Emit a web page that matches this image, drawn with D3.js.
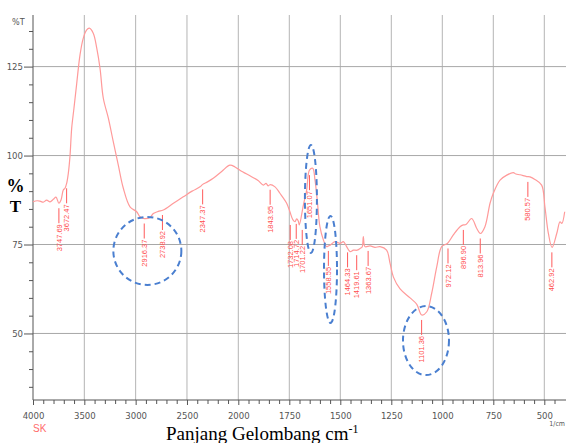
<!DOCTYPE html>
<html><head><meta charset="utf-8">
<script src="https://cdn.jsdelivr.net/npm/d3@7"></script>
<style>html,body{margin:0;padding:0;background:#fff;}svg{display:block;}</style>
</head><body>
<svg id="c" width="566" height="443"></svg>
<script>
// ---- data ----
const waveNumbers = [4000,3960,3932,3900,3867,3834,3802,3776,3748,3727,3705,3688,3672,3656,3640,3623,3601,3574,3542,3510,3477,3452,3413,3379,3347,3315,3266,3218,3169,3120,3055,2990,2958,2916,2860,2828,2780,2731,2636,2536,2450,2373,2347,2300,2244,2159,2081,2032,1992,1943,1903,1877,1864,1854,1845,1820,1796,1763,1747,1732,1722,1714,1706,1701,1681,1665,1651,1635,1624,1613,1600,1583,1567,1558,1550,1526,1501,1485,1469,1452,1436,1418,1403,1393,1387,1379,1354,1330,1305,1273,1256,1240,1207,1158,1125,1101,1076,1052,1027,1003,975,946,913,897,884,856,831,813,791,766,750,717,684,652,639,619,586,570,546,513,497,480,462,439,423,414,400];
const transmittance = [87.0,87.3,87.2,86.9,87.5,87.0,87.7,88.3,86.6,87.5,90.3,90.8,92.2,95.0,99.7,107.7,113.3,120.3,128.3,133.0,135.3,135.8,134.4,130.2,124.5,116.1,110.5,103.9,97.3,90.8,85.6,84.2,82.8,82.3,82.6,83.7,84.3,84.7,86.5,88.4,90.0,91.2,91.9,92.6,93.6,95.6,97.3,96.8,95.9,94.3,93.0,91.7,92.2,91.5,91.8,91.2,89.4,86.6,84.2,81.9,81.4,82.2,81.6,80.5,86.1,90.3,95.9,96.4,93.1,87.5,80.0,76.3,74.4,74.6,74.8,75.8,75.3,75.8,74.4,73.0,73.4,73.4,73.9,74.3,77.2,74.4,74.6,74.2,74.4,73.4,69.7,65.9,62.5,60.0,58.2,55.2,56.1,61.3,68.8,74.4,75.3,77.7,80.0,80.5,80.6,82.3,79.5,78.1,80.0,86.6,89.4,93.1,94.5,95.2,94.8,94.6,94.1,94.0,93.3,91.7,85.6,78.1,74.2,78.1,81.4,80.9,84.2];

const peakLabels = ["3747.69","3672.47","2916.37","2738.92","2347.37","1843.95","1732.08","1714.72","1701.22","1651.07","1558.55","1464.33","1419.61","1363.67","1101.36","972.12","896.90","813.96","580.57","462.92"];
const peakT = [86.6,92.2,82.3,84.7,91.9,91.8,81.9,82.2,80.5,95.9,74.6,74.2,73.4,74.6,55.2,75.3,80.5,78.1,94.0,74.2];

const xMajorTicks = [4000,3500,3000,2500,2000,1750,1500,1250,1000,750,500];
const yMajorTicks = [50,75,100,125];

// highlighted regions (centre wavenumber, centre %T)
const markWave = [2886,1644,1548,1080];
const markT = [73.2,87.8,68.0,48.0];

// ---- layout ----
const svg = d3.select("#c");
const x = d3.scaleLinear().domain([4000,2000,400]).range([33,238.3,564.7]);
const y = d3.scaleLinear().domain([31.3,139.5]).range([400,15]);
const narrow = "'Liberation Sans Narrow','Arial Narrow','DejaVu Sans Condensed','Liberation Sans',sans-serif";

// grid
const g = svg.append("g");
g.selectAll("line.vg").data(xMajorTicks.filter(d=>d!==4000)).enter().append("line")
  .attr("x1",d=>x(d)).attr("x2",d=>x(d)).attr("y1",15).attr("y2",400)
  .attr("stroke","#b4b4b4").attr("stroke-width",1);
g.selectAll("line.hg").data(yMajorTicks).enter().append("line")
  .attr("x1",33).attr("x2",566).attr("y1",d=>y(d)).attr("y2",d=>y(d))
  .attr("stroke","#a8a8a8").attr("stroke-width",1);

// axes
const minorX = d3.range(3900,2000,-100).concat(d3.range(1950,400,-50)).filter(d=>!xMajorTicks.includes(d));
const xMinor = d3.axisBottom(x).tickValues(minorX).tickSize(4).tickFormat("");
const xMajor = d3.axisBottom(x).tickValues(xMajorTicks).tickSize(5).tickPadding(7).tickFormat(d3.format("d"));
const ax1 = svg.append("g").attr("transform","translate(0,400)").call(xMinor);
const ax2 = svg.append("g").attr("transform","translate(0,400)").call(xMajor);
[ax1,ax2].forEach(a=>{a.select(".domain").remove();a.selectAll("line").attr("stroke","#555");});
ax2.selectAll("text").attr("font-family",narrow).attr("font-stretch","condensed").attr("font-size","9.5px").attr("fill","#555");
svg.append("line").attr("x1",33).attr("x2",566).attr("y1",400).attr("y2",400).attr("stroke","#555");

const minorY = d3.range(35,140,5).filter(d=>!yMajorTicks.includes(d));
const yMinor = d3.axisLeft(y).tickValues(minorY).tickSize(4).tickFormat("");
const yMajor = d3.axisLeft(y).tickValues(yMajorTicks).tickSize(9).tickPadding(1);
const ay1 = svg.append("g").attr("transform","translate(33,0)").call(yMinor);
const ay2 = svg.append("g").attr("transform","translate(33,0)").call(yMajor);
[ay1,ay2].forEach(a=>{a.select(".domain").remove();a.selectAll("line").attr("stroke","#555");});
ay2.selectAll("text").attr("font-family",narrow).attr("font-stretch","condensed").attr("font-size","9.5px").attr("fill","#555");
svg.append("line").attr("x1",33).attr("x2",33).attr("y1",15).attr("y2",400).attr("stroke","#555");

// spectrum
const pts = waveNumbers.map((w,i)=>[w,transmittance[i]]);
svg.append("path").datum(pts)
  .attr("d",d3.line().x(d=>x(d[0])).y(d=>y(d[1])).curve(d3.curveCatmullRom.alpha(0.5)))
  .attr("fill","none").attr("stroke","#ff9a9a").attr("stroke-width",1.2);

// peak labels with simple spreading
const peaks = peakLabels.map((l,i)=>({label:l,w:+l,t:peakT[i],px:x(+l)}));
for(let it=0;it<50;it++){
  for(let i=1;i<peaks.length;i++){
    const gap = peaks[i].px-peaks[i-1].px;
    if(gap<6){const s=(6-gap)/2;peaks[i].px+=s;peaks[i-1].px-=s;}
  }
}
const pg = svg.append("g");
peaks.forEach(p=>{
  const y0 = y(p.t);
  pg.append("line").attr("x1",p.px).attr("x2",p.px).attr("y1",y0+5).attr("y2",y0+20)
    .attr("stroke","#ff5a5a").attr("stroke-width",1);
  pg.append("text").attr("transform",`translate(${p.px},${y0+21}) rotate(-90)`)
    .attr("text-anchor","end").attr("dy","0.35em")
    .attr("font-family","'Liberation Sans',Arial,sans-serif").attr("font-size","7.5px")
    .attr("fill","#ff4d4d").text(p.label);
});

// dashed highlight ellipses
const radii = [[34,34],[6,54],[6.5,53.5],[23,34.5]];
svg.selectAll("ellipse.m").data(markWave).enter().append("ellipse")
  .attr("cx",(d,i)=>x(d)).attr("cy",(d,i)=>y(markT[i]))
  .attr("rx",(d,i)=>radii[i][0]).attr("ry",(d,i)=>radii[i][1])
  .attr("fill","none").attr("stroke","#4a7fd0").attr("stroke-width",2)
  .attr("stroke-dasharray","6,4");

// texts
svg.append("text").attr("x",12).attr("y",25).attr("font-family",narrow).attr("font-size","9px").attr("fill","#555").text("%T");
svg.append("text").attr("x",15.5).attr("y",192).attr("text-anchor","middle").attr("font-family","'Liberation Serif','Times New Roman',serif").attr("font-weight","bold").attr("font-size","18px").attr("fill","#000").text("%");
svg.append("text").attr("x",15.5).attr("y",212).attr("text-anchor","middle").attr("font-family","'Liberation Serif','Times New Roman',serif").attr("font-weight","bold").attr("font-size","17px").attr("fill","#000").text("T");
svg.append("text").attr("x",33).attr("y",432).attr("font-family","'Liberation Sans',Arial,sans-serif").attr("font-size","10px").attr("fill","#ff6b6b").text("SK");
svg.append("text").attr("x",565).attr("y",426).attr("text-anchor","end").attr("font-family",narrow).attr("font-stretch","condensed").attr("font-size","7px").attr("fill","#555").text("1/cm");
const xt = svg.append("text").attr("x",166).attr("y",440).attr("font-family","'Liberation Serif','Times New Roman',serif").attr("font-size","19px").attr("fill","#000");
xt.append("tspan").text("Panjang Gelombang cm");
xt.append("tspan").attr("dy","-7").attr("font-size","12px").text("-1");
</script>
</body></html>
